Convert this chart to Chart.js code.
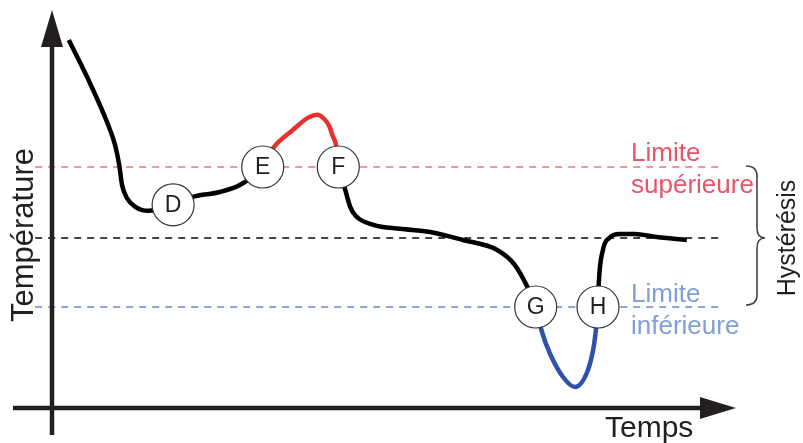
<!DOCTYPE html>
<html>
<head>
<meta charset="utf-8">
<script src="https://cdn.jsdelivr.net/npm/chart.js@4"></script>
<style>
  html, body { margin: 0; padding: 0; background: #fff; }
  canvas { display: block; }
</style>
</head>
<body>
<canvas id="hysteresis" width="803" height="443"></canvas>
<script>
// temperature curve (time units, temperature units)
const times = [2.4, 5.4, 7.9, 9.0, 9.6, 10.0, 10.7, 11.9, 13.7, 17.3, 20.1, 24.0, 26.9, 30.1,
  31.6, 34.4, 36.6, 37.9, 38.9, 39.6, 40.1, 40.6, 40.9, 41.9, 42.6, 43.4, 45.9, 49.7, 54.0, 58.7,
  63.6, 66.1, 67.9, 69.1, 70.0, 71.1, 73.0, 74.7, 76.4, 77.3, 77.7, 78.0, 78.1, 78.7, 79.6,
  81.1, 83.3, 86.1, 90.7];
const temps = [92, 81.3, 71.3, 65.8, 60.8, 55.8, 52.5, 50.3, 49.3, 50.8, 52.8, 54, 55.8, 60.25,
  65, 69.5, 72.6, 73.3, 72.25, 70.5, 68, 65.5, 60.25, 54.5, 50.3, 48, 45.8, 44.8, 44, 42,
  39.5, 35.8, 30.3, 25.25, 19, 13.75, 7.75, 5.25, 8.75, 14.5, 19.5, 25.25, 30.8, 39.5, 42.5,
  43.5, 43.5, 42.8, 42];

// labelled points on the curve
const markerNames = ["D", "E", "F", "G", "H"];
const markerTimes = [17.3, 30.1, 40.9, 69.1, 78.0];
const markerTemps = [50.8, 60.25, 60.25, 25.25, 25.25];

// limits
const upperLimit = 60.25;
const setPoint = 42.5;
const lowerLimit = 25.25;
const limitSpan = [-2.4, 95.9];

const FONT = '"Liberation Sans", Arial, Helvetica, sans-serif';

function hline(value, color) {
  return {
    type: "line",
    data: limitSpan.map(t => ({ x: t, y: value })),
    borderColor: color,
    borderWidth: 2,
    borderDash: [7, 6],
    pointRadius: 0,
    order: 2
  };
}

function segColor(ctx) {
  const t = times[ctx.p0DataIndex];
  if (t >= markerTimes[1] && t < markerTimes[2]) return "#e8302f";
  if (t >= markerTimes[3] && t < markerTimes[4]) return "#2f52a8";
  return "#000000";
}

// axes arrows, texts, brace, circle letters
const decor = {
  id: "decor",
  afterDatasetsDraw(chart) {
    const c = chart.ctx;
    const xs = chart.scales.x, ys = chart.scales.y;
    const x0 = xs.getPixelForValue(0), y0 = ys.getPixelForValue(0);

    // axes
    c.save();
    c.fillStyle = "#231f20";
    c.strokeStyle = "#231f20";
    c.lineWidth = 4.5;
    c.beginPath();
    c.moveTo(x0, 435); c.lineTo(x0, 44);
    c.moveTo(13, y0); c.lineTo(702, y0);
    c.stroke();
    c.beginPath();
    c.moveTo(x0, 10); c.lineTo(x0 + 11, 47); c.lineTo(x0 - 11, 47); c.closePath();
    c.fill();
    c.beginPath();
    c.moveTo(736, y0); c.lineTo(700, y0 - 11); c.lineTo(700, y0 + 11); c.closePath();
    c.fill();
    c.restore();

    // letters in circles
    const meta = chart.getDatasetMeta(0);
    c.save();
    c.fillStyle = "#231f20";
    c.font = "23px " + FONT;
    c.textAlign = "center";
    c.textBaseline = "middle";
    meta.data.forEach((p, i) => c.fillText(markerNames[i], p.x, p.y + 1));
    c.restore();

    // limit labels
    c.save();
    c.font = "26px " + FONT;
    c.textAlign = "left";
    c.textBaseline = "alphabetic";
    c.fillStyle = "#e8546b";
    c.fillText("Limite", 631, 161);
    c.fillText("supérieure", 631, 193);
    c.fillStyle = "#7f9fd8";
    c.fillText("Limite", 631, 302);
    c.fillText("inférieure", 631, 334);
    c.fillStyle = "#231f20";
    c.font = "30px " + FONT;
    c.fillText("Temps", 605, 437);
    c.restore();

    // vertical titles
    c.save();
    c.fillStyle = "#231f20";
    c.textAlign = "center";
    c.textBaseline = "alphabetic";
    c.translate(33, 235);
    c.rotate(-Math.PI / 2);
    c.font = "31px " + FONT;
    c.fillText("Température", 0, 0);
    c.restore();

    c.save();
    c.fillStyle = "#231f20";
    c.textAlign = "center";
    c.translate(795, 238);
    c.rotate(-Math.PI / 2);
    c.font = "25px " + FONT;
    c.fillText("Hystérésis", 0, 0);
    c.restore();

    // brace
    const top = ys.getPixelForValue(upperLimit) - 1;
    const mid = ys.getPixelForValue(setPoint);
    const bot = ys.getPixelForValue(lowerLimit) - 2;
    const bx0 = 746, bx1 = 757, bx2 = 765, r = 10;
    c.save();
    c.strokeStyle = "#444";
    c.lineWidth = 1.6;
    c.beginPath();
    c.moveTo(bx0, top);
    c.quadraticCurveTo(bx1, top, bx1, top + r);
    c.lineTo(bx1, mid - r);
    c.quadraticCurveTo(bx1, mid, bx2, mid);
    c.quadraticCurveTo(bx1, mid, bx1, mid + r);
    c.lineTo(bx1, bot - r);
    c.quadraticCurveTo(bx1, bot, bx0, bot);
    c.stroke();
    c.restore();
  }
};

new Chart(document.getElementById("hysteresis"), {
  type: "line",
  data: {
    datasets: [
      {
        label: "points",
        data: markerTimes.map((t, i) => ({ x: t, y: markerTemps[i] })),
        showLine: false,
        pointRadius: 21,
        pointBackgroundColor: "#ffffff",
        pointBorderColor: "#333333",
        pointBorderWidth: 1.2,
        order: 0
      },
      {
        label: "Température",
        data: times.map((t, i) => ({ x: t, y: temps[i] })),
        borderColor: "#000",
        borderWidth: 4.5,
        pointRadius: 0,
        cubicInterpolationMode: "monotone",
        borderCapStyle: "butt",
        segment: { borderColor: segColor },
        order: 1
      },
      hline(upperLimit, "#f2939f"),
      hline(setPoint, "#444444"),
      hline(lowerLimit, "#8aa6d9")
    ]
  },
  options: {
    responsive: false,
    devicePixelRatio: 1,
    animation: false,
    layout: { padding: 0, autoPadding: false },
    plugins: { legend: { display: false }, tooltip: { enabled: false } },
    scales: {
      x: { type: "linear", min: -52 / 7, max: 751 / 7, display: false },
      y: { type: "linear", min: -35 / 4, max: 102, display: false }
    }
  },
  plugins: [decor]
});
</script>
</body>
</html>
